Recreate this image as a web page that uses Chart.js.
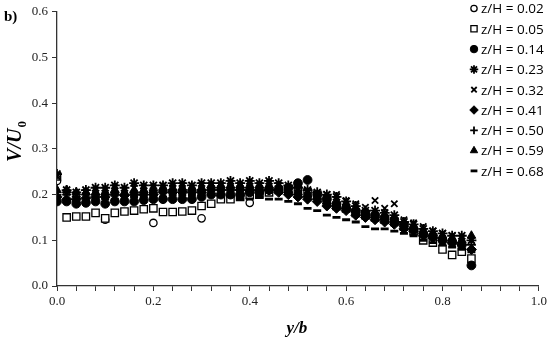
<!DOCTYPE html>
<html>
<head>
<meta charset="utf-8">
<script src="https://cdn.jsdelivr.net/npm/chart.js@4.4.0/dist/chart.umd.min.js"></script>
<style>
  body { margin: 0; background: #fff; }
  #wrap { width: 550px; height: 339px; }
</style>
</head>
<body>
<div id="wrap"><canvas id="chart" width="550" height="339"></canvas></div>
<script>
// y/b positions of the measuring stations
const yb = [0, 0.02, 0.04, 0.06, 0.08, 0.10, 0.12, 0.14, 0.16, 0.18,
  0.20, 0.22, 0.24, 0.26, 0.28, 0.30, 0.32, 0.34, 0.36, 0.38,
  0.40, 0.42, 0.44, 0.46, 0.48, 0.50, 0.52, 0.54, 0.56, 0.58,
  0.60, 0.62, 0.64, 0.66, 0.68, 0.70, 0.72, 0.74, 0.76, 0.78,
  0.80, 0.82, 0.84, 0.86];

// V/U0 for each z/H level (null = no marker)
const zH02 = [0.23, null, null, null, null, 0.145, null, null, null, null,
  0.138, null, null, null, null, 0.148, null, null, null, null,
  0.182, null, null, null, null, null, null, null, null, null,
  null, null, null, null, null, null, null, null, null, null,
  null, null, null, null];
const zH05 = [0.24, 0.15, 0.152, 0.152, 0.16, 0.148, 0.16, 0.163, 0.165, 0.168,
  0.17, 0.162, 0.162, 0.163, 0.165, 0.175, 0.18, 0.19, 0.19, 0.195,
  0.2, 0.2, 0.205, 0.21, 0.21, 0.21, 0.205, 0.2, 0.19, 0.175,
  0.17, 0.16, 0.155, 0.15, 0.145, 0.14, 0.13, 0.12, 0.1, 0.095,
  0.08, 0.068, 0.075, 0.06];
const zH14 = [0.185, 0.185, 0.18, 0.182, 0.185, 0.18, 0.185, 0.185, 0.185, 0.188,
  0.19, 0.19, 0.19, 0.19, 0.19, 0.195, 0.2, 0.2, 0.2, 0.2,
  0.205, 0.205, 0.21, 0.21, 0.215, 0.225, 0.232, 0.2, 0.19, 0.18,
  0.17, 0.165, 0.16, 0.155, 0.15, 0.145, 0.135, 0.125, 0.115, 0.11,
  0.1, 0.095, 0.09, 0.045];
const zH23 = [0.245, 0.21, 0.205, 0.21, 0.215, 0.215, 0.22, 0.215, 0.225, 0.22,
  0.22, 0.22, 0.225, 0.225, 0.22, 0.225, 0.225, 0.225, 0.23, 0.225,
  0.23, 0.225, 0.23, 0.225, 0.22, 0.215, 0.21, 0.205, 0.2, 0.195,
  0.185, 0.175, 0.165, 0.165, 0.16, 0.155, 0.14, 0.135, 0.125, 0.12,
  0.115, 0.11, 0.11, 0.1];
const zH32 = [0.24, 0.205, 0.2, 0.205, 0.21, 0.21, 0.215, 0.21, 0.215, 0.215,
  0.215, 0.22, 0.215, 0.22, 0.22, 0.22, 0.22, 0.22, 0.225, 0.22,
  0.225, 0.22, 0.225, 0.22, 0.215, 0.21, 0.205, 0.2, 0.2, 0.2,
  0.187, 0.18, 0.172, 0.187, 0.17, 0.18, 0.145, 0.138, 0.13, 0.12,
  0.115, 0.11, 0.105, 0.1];
const zH41 = [0.195, 0.19, 0.19, 0.192, 0.195, 0.195, 0.2, 0.198, 0.2, 0.2,
  0.2, 0.205, 0.205, 0.205, 0.205, 0.205, 0.21, 0.21, 0.21, 0.21,
  0.21, 0.21, 0.21, 0.205, 0.2, 0.195, 0.19, 0.185, 0.175, 0.17,
  0.165, 0.155, 0.15, 0.145, 0.14, 0.135, 0.125, 0.12, 0.11, 0.105,
  0.1, 0.095, 0.09, 0.08];
const zH50 = [0.2, 0.2, 0.195, 0.2, 0.2, 0.2, 0.205, 0.2, 0.205, 0.205,
  0.21, 0.21, 0.21, 0.21, 0.21, 0.21, 0.215, 0.215, 0.215, 0.215,
  0.215, 0.215, 0.215, 0.21, 0.205, 0.2, 0.195, 0.19, 0.18, 0.175,
  0.17, 0.16, 0.155, 0.15, 0.145, 0.14, 0.13, 0.125, 0.115, 0.11,
  0.105, 0.1, 0.095, 0.09];
const zH59 = [0.21, 0.21, 0.205, 0.205, 0.205, 0.205, 0.21, 0.205, 0.21, 0.21,
  0.21, 0.215, 0.215, 0.215, 0.215, 0.215, 0.22, 0.22, 0.22, 0.22,
  0.22, 0.22, 0.22, 0.215, 0.21, 0.205, 0.2, 0.195, 0.185, 0.18,
  0.175, 0.165, 0.16, 0.155, 0.15, 0.145, 0.135, 0.13, 0.12, 0.115,
  0.11, 0.105, 0.1, 0.11];
const zH68 = [0.185, 0.185, 0.185, 0.185, 0.19, 0.19, 0.19, 0.19, 0.195, 0.195,
  0.195, 0.195, 0.2, 0.2, 0.2, 0.2, 0.2, 0.2, 0.195, 0.19,
  0.19, 0.195, 0.19, 0.19, 0.185, 0.18, 0.17, 0.165, 0.155, 0.15,
  0.145, 0.14, 0.13, 0.125, 0.125, 0.12, 0.115, 0.11, 0.1, 0.095,
  0.09, 0.085, 0.08, 0.075];

const seriesNames = ['z/H = 0.02', 'z/H = 0.05', 'z/H = 0.14', 'z/H = 0.23', 'z/H = 0.32',
  'z/H = 0.41', 'z/H = 0.50', 'z/H = 0.59', 'z/H = 0.68'];
const seriesValues = [zH02, zH05, zH14, zH23, zH32, zH41, zH50, zH59, zH68];

const xTicks = [0, 0.2, 0.4, 0.6, 0.8, 1.0];
const yTicks = [0, 0.1, 0.2, 0.3, 0.4, 0.5, 0.6];

// marker look per series
const markers = [
  { pointStyle: 'circle', radius: 3.7, fill: '#fff', borderWidth: 1.3 },
  { pointStyle: 'rect', radius: 5.2, fill: '#fff', borderWidth: 1.3 },
  { pointStyle: 'circle', radius: 4.4, fill: '#000', borderWidth: 1 },
  { pointStyle: 'star', radius: 5, fill: '#000', borderWidth: 1.8 },
  { pointStyle: 'crossRot', radius: 4.5, fill: '#000', borderWidth: 1.8 },
  { pointStyle: 'rectRot', radius: 5, fill: '#000', borderWidth: 1 },
  { pointStyle: 'cross', radius: 4.5, fill: '#000', borderWidth: 1.8 },
  { pointStyle: 'triangle', radius: 5, fill: '#000', borderWidth: 1 },
  { pointStyle: 'line', radius: 4, fill: '#000', borderWidth: 2.8 }
];

const datasets = seriesValues.map((vals, i) => ({
  label: seriesNames[i],
  data: yb.map((x, k) => ({ x: x, y: vals[k] })).filter(p => p.y !== null),
  showLine: false,
  pointStyle: markers[i].pointStyle,
  pointRadius: markers[i].radius,
  pointHoverRadius: markers[i].radius,
  pointBackgroundColor: markers[i].fill,
  pointBorderColor: '#000',
  pointBorderWidth: markers[i].borderWidth,
  order: 9 - i
}));

const serif = "'Liberation Serif', 'Times New Roman', serif";

const extras = {
  id: 'extras',
  afterDraw(chart) {
    const ctx = chart.ctx;
    const area = chart.chartArea;
    ctx.save();
    ctx.fillStyle = '#000';

    // panel tag
    ctx.font = 'bold 15px ' + serif;
    ctx.textAlign = 'left';
    ctx.textBaseline = 'alphabetic';
    ctx.fillText('b)', 4, 21);

    // x title
    ctx.font = 'italic bold 17px ' + serif;
    ctx.textAlign = 'center';
    ctx.fillText('y/b', (area.left + area.right) / 2 - 1, 333);

    // y title with subscript
    ctx.save();
    ctx.translate(21, 142);
    ctx.rotate(-Math.PI / 2);
    ctx.font = 'italic bold 20px ' + serif;
    const main = 'V/U';
    const w1 = ctx.measureText(main).width;
    ctx.font = 'bold 13px ' + serif;
    const w2 = ctx.measureText('0').width;
    const start = -(w1 + w2) / 2;
    ctx.font = 'italic bold 20px ' + serif;
    ctx.textAlign = 'left';
    ctx.fillText(main, start, 0);
    ctx.font = 'bold 13px ' + serif;
    ctx.fillText('0', start + w1 + 1, 5);
    ctx.restore();

    // legend
    const lx = 474, ly0 = 8.5, step = 20.3;
    seriesNames.forEach((name, i) => {
      const m = markers[i];
      const y = ly0 + i * step;
      ctx.fillStyle = m.fill;
      ctx.strokeStyle = '#000';
      ctx.lineWidth = m.borderWidth;
      Chart.helpers.drawPoint(ctx, {
        pointStyle: m.pointStyle, radius: m.radius * 0.85, rotation: 0, borderWidth: m.borderWidth
      }, lx, y);
      ctx.fillStyle = '#000';
      ctx.font = "13.5px 'Open Sans', sans-serif";
      ctx.textAlign = 'left';
      ctx.textBaseline = 'middle';
      ctx.fillText(name, 481, y + 1);
    });
    ctx.restore();
  }
};

new Chart(document.getElementById('chart'), {
  type: 'scatter',
  data: { datasets: datasets },
  options: {
    responsive: false,
    animation: false,
    layout: { padding: { left: 0, right: 11, top: 10, bottom: 0 } },
    plugins: { legend: { display: false }, tooltip: { enabled: false } },
    scales: {
      x: {
        type: 'linear',
        min: 0,
        max: 1,
        afterFit: (s) => { s.height = 53; },
        ticks: {
          stepSize: 0.04,
          autoSkip: false,
          maxRotation: 0,
          padding: 3,
          color: '#222',
          font: { family: serif, size: 13 },
          callback: (v) => {
            const hit = xTicks.find(t => Math.abs(t - v) < 1e-6);
            return hit === undefined ? '' : hit.toFixed(1);
          }
        },
        grid: { drawOnChartArea: false, drawTicks: true, tickLength: 5, color: '#333' },
        border: { display: true, color: '#333', width: 1.3 }
      },
      y: {
        min: 0,
        max: 0.6,
        afterFit: (s) => { s.width = 57; },
        afterBuildTicks: (s) => { s.ticks = yTicks.map(v => ({ value: v })); },
        ticks: {
          padding: 4,
          color: '#222',
          font: { family: serif, size: 13 },
          callback: (v) => v.toFixed(1)
        },
        grid: { drawOnChartArea: false, drawTicks: true, tickLength: 5, color: '#333' },
        border: { display: true, color: '#333', width: 1.3 }
      }
    }
  },
  plugins: [extras]
});
</script>
</body>
</html>
